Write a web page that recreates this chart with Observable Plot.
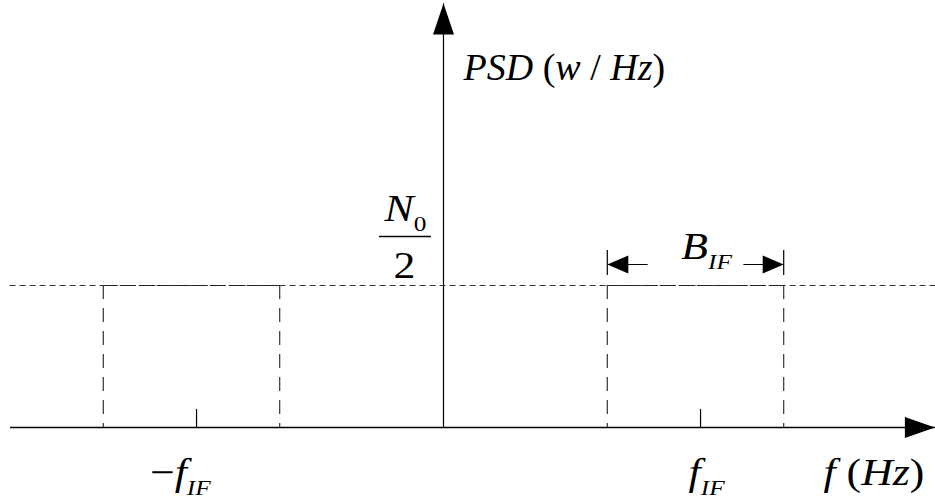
<!DOCTYPE html>
<html>
<head>
<meta charset="utf-8">
<script src="https://cdn.jsdelivr.net/npm/d3@7"></script>
<script src="https://cdn.jsdelivr.net/npm/@observablehq/plot@0.6"></script>
<style>
  body { margin: 0; background: #fff; }
  #chart svg { display: block; }
  #chart svg text { font-family: "Liberation Serif", "Times New Roman", serif; white-space: pre; }
</style>
</head>
<body>
<div id="chart"></div>
<script>
// Bandpass noise PSD: two bands of width B_IF centred on ±f_IF at level N0/2.
const fIF = 1;                          // intermediate frequency (normalised)
const bandWidth = 0.70;                 // B_IF, in units of f_IF
const psdLevel = 1;                     // N0/2 (normalised)
const bandCenters = [-fIF, fIF];
const tickPositions = [-0.98, 1.02];
const tickLabels = ["\u2212f_{IF}", "f_{IF}"];
const axisTitles = ["PSD (w / Hz)", "f (Hz)"];
const levelLabel = ["N_{0}", "2"];
const bandLabel = "B_{IF}";

const SIZE = 38;        // main symbol size
const SUB = 22;         // subscript size
const SUB_SHIFT = 10;   // subscript drop, px
const STRETCH = 1.15;   // horizontal widening of the math lettering
const TITLE_STRETCH = 1.0;

const xMin = -1.72, xMax = 1.95, yTop = 2.986;
const edges = bandCenters.flatMap(c => [c - bandWidth / 2, c + bandWidth / 2]);
const arrowGap = 0.19;  // room left for the B_IF label between its arrows
const rightBand = bandCenters[1];

// Filled triangular arrowhead whose tip sits on the line end.
function filledArrow(length, width) {
  return (color) => {
    const m = d3.create("svg:marker")
      .attr("viewBox", `${-length} ${-width / 2} ${length} ${width}`)
      .attr("markerWidth", length)
      .attr("markerHeight", width)
      .attr("markerUnits", "userSpaceOnUse")
      .attr("orient", "auto")
      .attr("overflow", "visible")
      .attr("fill", "black")
      .attr("stroke", "none");
    m.append("path").attr("d", `M0,0L${-length},${-width / 2}L${-length},${width / 2}Z`);
    return m.node();
  };
}

const mathText = (data, opts) => Plot.text(data, {
  fontSize: SIZE, fill: "black", lineAnchor: "bottom", ...opts
});

const chart = Plot.plot({
  width: 935,
  height: 504,
  margin: 0,
  x: {domain: [-1, 1], range: [191, 695], axis: null},
  y: {domain: [0, 1], range: [427, 285], axis: null},
  style: {background: "white", overflow: "visible"},
  marks: [
    // N0/2 reference level
    Plot.ruleY([psdLevel], {x1: xMin, x2: xMax + 0.01, stroke: "#333", strokeWidth: 1, strokeDasharray: "6,4"}),
    // band tops
    Plot.ruleY(bandCenters, {x1: c => c - bandWidth / 2, x2: c => c + bandWidth / 2, y: psdLevel,
      stroke: "#222", strokeWidth: 1.2, strokeDasharray: "15,3"}),
    // band sides
    Plot.ruleX(edges, {y1: psdLevel, y2: 0, stroke: "#333", strokeWidth: 1.2, strokeDasharray: "14,9"}),
    // ±f_IF ticks
    Plot.ruleX(tickPositions, {y1: 0, y2: 0.127, stroke: "black", strokeWidth: 1.2}),
    // axes
    Plot.link([0], {x1: xMin, x2: xMax, y1: 0, y2: 0, stroke: "black", strokeWidth: 1.4, markerEnd: filledArrow(30, 21)}),
    Plot.link([0], {x1: 0, x2: 0, y1: 0, y2: yTop, stroke: "black", strokeWidth: 1.2, markerEnd: filledArrow(31, 21)}),
    // B_IF dimension arrows and end bars
    Plot.ruleX([rightBand - bandWidth / 2, rightBand + bandWidth / 2], {y1: 1.07, y2: 1.246, stroke: "black", strokeWidth: 1.2}),
    Plot.link([-1, 1], {
      x1: s => rightBand + s * arrowGap, x2: s => rightBand + s * bandWidth / 2,
      y1: 1.148, y2: 1.148, stroke: "black", strokeWidth: 1.2, markerEnd: filledArrow(21, 18)
    }),
    // labels
    mathText([axisTitles[0]], {x: 0, y: 2.444, dx: 20, textAnchor: "start"}),
    mathText([axisTitles[1]], {x: 1.508, y: -0.408, textAnchor: "start"}),
    mathText(tickLabels, {x: (d, i) => bandCenters[i] * 1.044, y: -0.408, textAnchor: "middle"}),
    mathText([levelLabel[0]], {x: -0.151, y: 1.451, textAnchor: "middle"}),
    mathText([levelLabel[1]], {x: -0.155, y: 1.056, textAnchor: "middle"}),
    Plot.ruleY([1.345], {x1: -0.254, x2: -0.048, stroke: "black", strokeWidth: 1.4}),
    mathText([bandLabel], {x: rightBand + 0.044, y: 1.19, textAnchor: "middle"})
  ]
});

// Typeset the labels: letters italic, digits and punctuation upright, _{..} as subscript.
d3.select(chart).selectAll("text").each(function () {
  const src = this.textContent;
  this.textContent = "";
  let drop = 0;
  const addRuns = (str, size, firstDy) => {
    let dy = firstDy;
    for (const [run] of str.matchAll(/[A-Za-z]+|[^A-Za-z]+/g)) {
      const t = d3.select(this).append("tspan").text(run).attr("font-size", size);
      if (/[A-Za-z]/.test(run)) t.attr("font-style", "italic");
      if (dy) { t.attr("dy", dy); dy = 0; }
    }
  };
  for (const m of src.matchAll(/_\{([^}]*)\}|[^_]+/g)) {
    if (m[1] !== undefined) {
      addRuns(m[1], SUB, SUB_SHIFT);
      drop += SUB_SHIFT;
    } else {
      addRuns(m[0], SIZE, -drop);
      drop = 0;
    }
  }
  const s = src === axisTitles[0] ? TITLE_STRETCH : STRETCH;
  const tr = this.getAttribute("transform") || "";
  if (s !== 1) this.setAttribute("transform", `${tr} scale(${s},1)`);
});

document.getElementById("chart").append(chart);
</script>
</body>
</html>
